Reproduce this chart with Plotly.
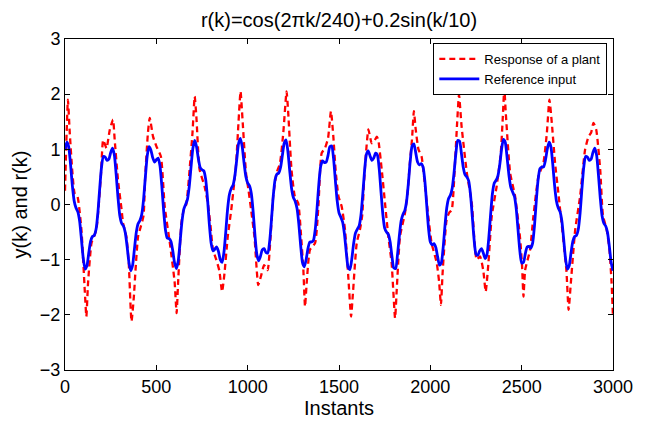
import plotly.graph_objects as go

# Istanti del riferimento (passo 10)
istanti = list(range(0, 3001, 10))

# Reference input r(k)
riferimento = [
    1.00, 1.13, 1.05, .74, .35, .07, -.06, -.13, -.30, -.63, -.98, -1.17, -1.11, -.88, -.67, -.58, -.56, -.45, -.15, .29, .68, .87, .86, .80,
    .82, .94, 1.02, .90, .55, .13, -.20, -.34, -.39, -.51, -.76, -1.05, -1.20, -1.10, -.81, -.51, -.35, -.29, -.18, .09, .50, .88, 1.05, .99,
    .85, .77, .81, .84, .70, .34, -.11, -.46, -.61, -.62, -.67, -.84, -1.06, -1.16, -1.02, -.68, -.32, -.09, .00, .09, .32, .68, 1.02, 1.16,
    1.05, .83, .67, .63, .61, .46, .11, -.35, -.70, -.84, -.81, -.77, -.85, -1.00, -1.05, -.87, -.50, -.09, .18, .29, .35, .52, .81, 1.10,
    1.20, 1.05, .76, .51, .39, .34, .20, -.13, -.56, -.90, -1.02, -.94, -.82, -.80, -.87, -.88, -.68, -.29, .15, .45, .55, .57, .67, .89,
    1.11, 1.17, .97, .62, .30, .13, .06, -.07, -.35, -.74, -1.05, -1.13, -1.00, -.80, -.68, -.68, -.65, -.45, -.06, .39, .70, .79, .76, .77,
    .89, 1.05, 1.06, .84, .44, .07, -.15, -.23, -.32, -.54, -.87, -1.14, -1.18, -.99, -.71, -.52, -.45, -.39, -.20, .18, .61, .91, .97, .88,
    .80, .84, .93, .90, .65, .23, -.18, -.43, -.50, -.54, -.68, -.94, -1.15, -1.16, -.92, -.58, -.30, -.18, -.11, .06, .39, .79, 1.06, 1.10,
    .94, .77, .72, .74, .68, .43, .00, -.43, -.68, -.73, -.71, -.78, -.95, -1.10, -1.06, -.79, -.39, -.06, .11, .17, .30, .58, .93, 1.16,
    1.15, .93, .68, .54, .50, .43, .18, -.23, -.65, -.90, -.92, -.84, -.80, -.88, -.98, -.91, -.61, -.18, .20, .39, .44, .52, .72, 1.00,
    1.18, 1.13, .86, .54, .32, .23, .15, -.07, -.45, -.84, -1.06, -1.05, -.89, -.77, -.76, -.79, -.70, -.39, .06, .45, .65, .68, .68, .80,
    1.00, 1.13, 1.05, .74, .35, .07, -.06, -.13, -.30, -.63, -.98, -1.17, -1.11, -.88, -.67, -.58, -.56, -.45, -.15, .29, .68, .87, .86, .80,
    .82, .94, 1.02, .90, .55, .13, -.20, -.34, -.39, -.51, -.76, -1.05, -1.20,
]

# Risposta dell'impianto: punti (istante, valore)
risposta_k = [
    0, 8, 16, 26, 40, 53, 68, 90, 108, 117, 126, 145, 159, 172, 185, 197, 209, 227, 245, 263,
    272, 290, 310, 318, 336, 349, 364, 377, 386, 400, 415, 430, 439, 454, 464, 482, 501, 525, 546, 574,
    600, 611, 619, 637, 650, 664, 682, 698, 710, 719, 737, 764, 783, 797, 810, 828, 845, 860, 873, 891,
    910, 925, 937, 950, 961, 973, 991, 1005, 1019, 1037, 1058, 1072, 1090, 1109, 1125, 1140, 1158, 1177, 1195, 1213,
    1222, 1240, 1258, 1277, 1292, 1305, 1314, 1323, 1341, 1369, 1387, 1405, 1423, 1440, 1456, 1469, 1482, 1497, 1515, 1533,
    1552, 1566, 1575, 1597, 1615, 1627, 1637, 1647, 1661, 1679, 1693, 1707, 1715, 1734, 1752, 1770, 1788, 1807, 1816, 1834,
    1861, 1875, 1888, 1900, 1910, 1920, 1935, 1952, 1971, 1989, 2007, 2035, 2048, 2058, 2067, 2089, 2103, 2117, 2135, 2147,
    2157, 2171, 2200, 2227, 2245, 2254, 2272, 2290, 2303, 2318, 2336, 2363, 2385, 2397, 2405, 2413, 2437, 2464, 2491, 2502,
    2510, 2519, 2546, 2564, 2592, 2619, 2638, 2652, 2665, 2683, 2701, 2729, 2745, 2757, 2769, 2793, 2820, 2847, 2866, 2880,
    2893, 2908, 2930, 2945, 2965, 2980, 2992, 3000,
]
risposta_y = [
    .25, 1.2, 1.9, 1.3, .6, .2, .15, -.46, -1.55, -2.03, -1.43, -.7, -.58, -.45, .0, .55, 1.17, 1.02, 1.35, 1.54,
    1.17, .45, -.1, -.34, -.58, -1.06, -2.12, -1.67, -1.19, -.58, -.4, -.2, .5, 1.3, 1.57, 1.23, 1.05, .87, -.04, -.7,
    -1.4, -1.97, -1.43, -.34, -.1, 0, .63, 1.3, 1.96, 1.6, .63, .33, 0, -.4, -.82, -1.0, -1.2, -1.58, -1.25, -.58,
    -.1, .35, .75, 1.5, 2.05, 1.48, .57, .25, -.1, -.58, -1.46, -1.31, -1.1, -1.19, -.6, .15, .57, .75, 1.3, 2.05,
    1.66, .63, .15, .02, -.55, -1.19, -1.85, -1.43, -.82, -.7, -.04, .93, 1.02, 1.2, 1.69, 1.23, .6, .15, -.04, -.46,
    -1.37, -2.03, -1.67, -.7, -.45, -.2, .4, .9, 1.36, 1.11, 1.15, 1.23, 1.17, .63, .02, -.58, -1.06, -2.06, -1.55, -.58,
    -.16, .2, .75, 1.2, 1.69, 1.36, 1.0, .87, .33, -.22, -.7, -1.06, -1.4, -1.82, -1.25, -.28, -.15, -.1, .75, 1.5,
    1.99, 1.42, .57, .02, -.82, -1.0, -.94, -1.2, -1.58, -1.06, -.22, .33, .9, 1.6, 2.11, 1.66, .57, .15, -.6, -1.1,
    -1.67, -1.19, -.82, -.22, .51, .75, 1.3, 1.9, 1.48, .75, .2, -.67, -1.2, -1.91, -1.43, -.46, .15, .99, 1.23, 1.3,
    1.48, 1.36, .63, -.2, -.45, -.8, -1.4, -2.05,
]

tick_x = [0, 500, 1000, 1500, 2000, 2500, 3000]
tick_y = [-3, -2, -1, 0, 1, 2, 3]

fig = go.Figure()
fig.add_trace(go.Scatter(
    x=risposta_k, y=risposta_y, mode="lines",
    name="Response of a plant",
    line=dict(color="#ff0000", width=2.3, dash="6px,4px", shape="spline", smoothing=0.5)
))
fig.add_trace(go.Scatter(
    x=istanti, y=riferimento, mode="lines",
    name="Reference input",
    line=dict(color="#0000ff", width=2.8, shape="spline", smoothing=0.6)
))

assi = dict(showline=True, linecolor="black", linewidth=1, mirror="ticks",
            ticks="inside", ticklen=5, tickcolor="black", automargin=False,
            showgrid=False, zeroline=False, tickfont=dict(size=18))

# la pagina ha un margine di 8px: figura un po' piu' piccola
fig.update_layout(
    width=638, height=415,
    margin=dict(l=57, r=33, t=31, b=53),
    paper_bgcolor="white", plot_bgcolor="white",
    font=dict(family="Liberation Sans, Arial, sans-serif", color="black"),
    title=dict(text="r(k)=cos(2πk/240)+0.2sin(k/10)", font=dict(size=20),
               x=0.5, xref="paper", xanchor="center",
               y=1 - 12 / 415, yref="container", yanchor="middle"),
    xaxis=dict(range=[0, 3000], tickvals=tick_x,
               title=dict(text="Instants", font=dict(size=20), standoff=4), **assi),
    yaxis=dict(range=[-3, 3], tickvals=tick_y,
               title=dict(text="y(k) and r(k)", font=dict(size=20), standoff=6), **assi),
    legend=dict(x=0.9896, xanchor="right", y=0.988, yanchor="top",
                bgcolor="white", bordercolor="black", borderwidth=1,
                font=dict(size=13), tracegroupgap=0, itemwidth=40),
    showlegend=True,
)

fig.write_html("out.html")
